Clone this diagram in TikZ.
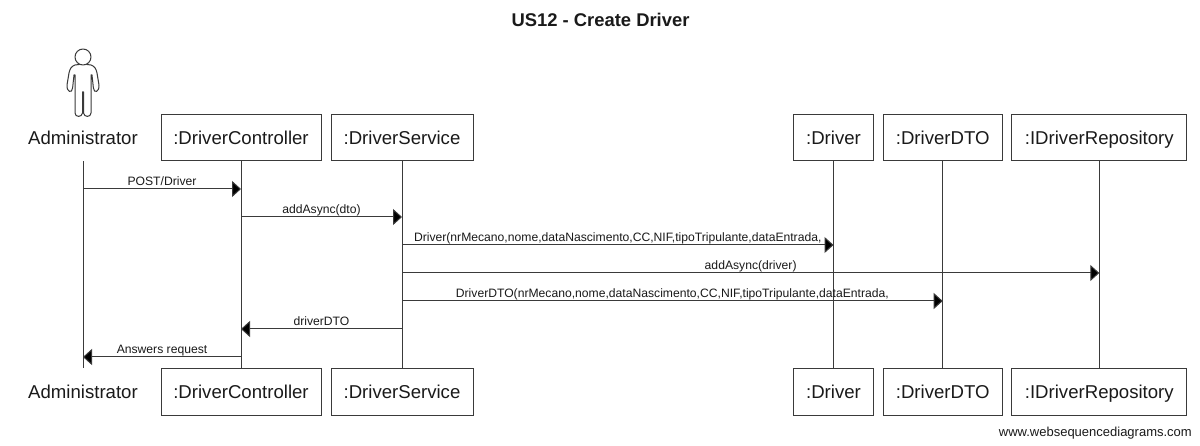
\documentclass[tikz,border=0pt]{standalone}
\usepackage{fontspec}
\setmainfont{Liberation Sans}
\usetikzlibrary{arrows.meta,calc}
\definecolor{ink}{HTML}{1A1A1A}
\definecolor{edge}{HTML}{3A3A3A}
\tikzset{
  part/.style={draw=edge,line width=1pt,minimum height=46pt,inner sep=0pt,text=ink,text height=18pt,text depth=4pt,font=\fontsize{18.6}{20}\selectfont,fill=white},
  actorlabel/.style={part,draw=none,fill=none},
  life/.style={draw=edge,line width=1pt},
  msgline/.style={draw=edge,line width=1pt,-{Triangle[width=16pt,length=9pt,fill=black]}},
  msglabel/.style={font=\fontsize{12.15}{13}\selectfont,text=ink,inner sep=0pt,anchor=base},
  mantle/.style={draw=edge,line width=1pt,line join=round,fill=white},
}
\newcommand{\msg}[5]{%
  \coordinate (#1s) at (#2 |- 0,#4);
  \coordinate (#1e) at (#3 |- 0,#4);
  \draw[msgline] (#1s) -- (#1e);
  \node[msglabel] (#1t) at ($(#1s)!0.5!(#1e)+(0,-3.5)$) {#5};
}
\begin{document}
\begin{tikzpicture}[x=1pt,y=-1pt]
\useasboundingbox (0,0) rectangle (1200,446);
\fill[white] (0,0) rectangle (1200,446);
\node[font=\bfseries\fontsize{18.4}{20}\selectfont,text=ink,inner sep=0pt,anchor=base] (title) at (600.5,27) {US12 - Create Driver};
% top
\node[actorlabel,minimum width=120pt] (a1) at (83,138) {Administrator};
\node[part,minimum width=160pt] (b1) at (241,138) {:DriverController};
\node[part,minimum width=142pt] (c1) at (402,138) {:DriverService};
\node[part,minimum width=80pt] (d1) at (833.5,138) {:Driver};
\node[part,minimum width=119pt] (e1) at (942.7,138) {:DriverDTO};
\node[part,minimum width=175pt] (f1) at (1099.3,138) {:IDriverRepository};
% bottom
\node[actorlabel,minimum width=120pt] (a2) at (83,392) {Administrator};
\node[part,minimum width=160pt] (b2) at (241,392) {:DriverController};
\node[part,minimum width=142pt] (c2) at (402,392) {:DriverService};
\node[part,minimum width=80pt] (d2) at (833.5,392) {:Driver};
\node[part,minimum width=119pt] (e2) at (942.7,392) {:DriverDTO};
\node[part,minimum width=175pt] (f2) at (1099.3,392) {:IDriverRepository};
% lifelines
\draw[life] (a1.south) -- (a2.north);
\draw[life] (b1.south) -- (b2.north);
\draw[life] (c1.south) -- (c2.north);
\draw[life] (d1.south) -- (d2.north);
\draw[life] (e1.south) -- (e2.north);
\draw[life] (f1.south) -- (f2.north);
% actor
\draw[mantle] (75,65)
  .. controls (71,66.5) and (70,69) .. (69,73)
  -- (67,85)
  .. controls (66.5,92) and (72,94) .. (72.6,88)
  -- (74,75)
  -- (75,75)
  -- (75,113)
  .. controls (75,117.5) and (82,117.5) .. (82.5,113)
  -- (82.5,92)
  -- (83.5,92)
  -- (83.5,113)
  .. controls (84,117.5) and (91,117.5) .. (91,113)
  -- (91,75)
  -- (92,75)
  -- (93.4,88)
  .. controls (94,94) and (99.5,92) .. (99,85)
  -- (97,73)
  .. controls (96,69) and (95,66.5) .. (91,65)
  -- (83,64) -- cycle;
\draw[mantle] (83,57) circle (8);
% messages
\msg{m1}{a1.south}{b1.south}{189}{POST/Driver}
\msg{m2}{b1.south}{c1.south}{217}{addAsync(dto)}
\msg{m3}{c1.south}{d1.south}{245}{Driver(nrMecano,nome,dataNascimento,CC,NIF,tipoTripulante,dataEntrada,}
\msg{m4}{c1.south}{f1.south}{273}{addAsync(driver)}
\msg{m5}{c1.south}{e1.south}{301}{DriverDTO(nrMecano,nome,dataNascimento,CC,NIF,tipoTripulante,dataEntrada,}
\msg{m6}{c1.south}{b1.south}{329}{driverDTO}
\msg{m7}{b1.south}{a1.south}{357}{Answers request}
\node[font=\fontsize{13}{14}\selectfont,text=ink,inner sep=0pt,anchor=base east] (credit) at (1192,436) {www.websequencediagrams.com};
\end{tikzpicture}
\end{document}
